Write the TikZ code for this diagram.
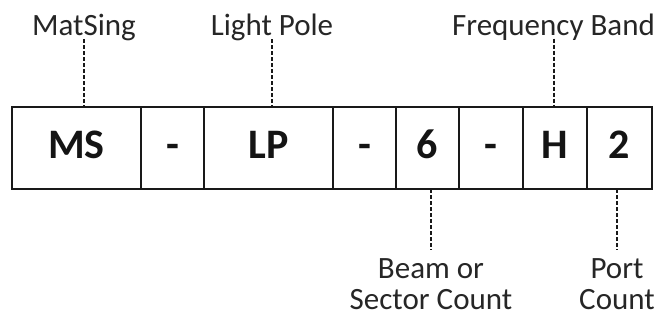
\documentclass[tikz,border=0pt]{standalone}
\usepackage{fontspec}
\setmainfont{Carlito}
\begin{document}
\begin{tikzpicture}[x=1pt,y=-1pt]
\tikzset{
  cell/.style={draw=black!90, line width=2.2pt, minimum height=82pt, inner sep=0pt, outer sep=0pt,
    text height=27pt, text depth=7pt, text=black!92, font=\fontsize{42}{42}\selectfont\bfseries},
  lbl/.style={font=\fontsize{31}{31}\selectfont, inner sep=0pt, text=black!85},
  lead/.style={draw=black!90, dash pattern=on 4pt off 2pt, line width=2pt}
}
\useasboundingbox (0,0) rectangle (665,324);
% cells
\node[cell, minimum width=129pt] (cMS) at (76.5,148) {MS};
\node[cell, minimum width=63pt] (cD1) at (172.5,148) {-};
\node[cell, minimum width=129pt] (cLP) at (268.5,148) {LP};
\node[cell, minimum width=63pt] (cD2) at (364.5,148) {-};
\node[cell, minimum width=63pt] (c6) at (427.5,148) {6};
\node[cell, minimum width=64pt] (cD3) at (491,148) {-};
\node[cell, minimum width=64pt] (cH) at (555,148) {H};
\node[cell, minimum width=65pt] (c2) at (619.5,148) {2};
% top labels
\node[lbl, anchor=base] (lMat) at (84,35) {MatSing};
\node[lbl, anchor=base] (lLight) at (272,35) {Light Pole};
\node[lbl, anchor=base] (lFreq) at (553.5,35) {Frequency Band};
% bottom labels
\node[lbl, anchor=north, align=center, inner ysep=8pt] (lBeam) at (431,250) {Beam or\\Sector Count};
\node[lbl, anchor=north, align=center, inner ysep=8pt] (lPort) at (617,250) {Port\\Count};
% leaders
\draw[lead] ([yshift=1.5pt]lMat.south) -- (lMat.south |- cMS.north);
\draw[lead] ([yshift=1.5pt]lLight.south) -- (lLight.south |- cLP.north);
\draw[lead] ([yshift=1.5pt]lFreq.south) -- (lFreq.south |- cH.north);
\draw[lead] (lBeam.north |- c6.south) -- (lBeam.north);
\draw[lead] (lPort.north |- c2.south) -- (lPort.north);
\end{tikzpicture}
\end{document}
